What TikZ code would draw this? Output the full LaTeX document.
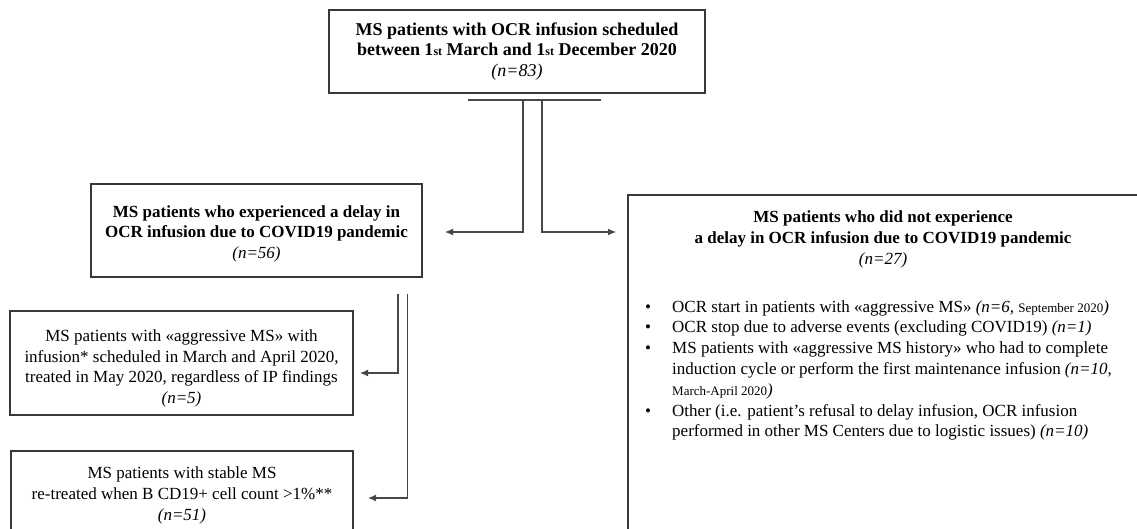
\documentclass[tikz,border=0pt]{standalone}
\usepackage{fontspec}
\setmainfont{Liberation Serif}
\usetikzlibrary{arrows.meta}
\newcommand{\smallst}{{\fontsize{12}{12}\selectfont st}}
\newcommand{\smalltxt}[1]{{\fontsize{13}{13}\selectfont #1}}
\begin{document}
\begin{tikzpicture}[x=1pt,y=-1pt,
  box/.style={draw=black!78, line width=1.1pt, rectangle, inner sep=0pt, align=center, text=black},
  conn/.style={draw=black!72, line width=1.1pt},
  arr/.style={conn, -{Latex[length=8pt,width=7pt]}},
  big/.style={font=\fontsize{18}{20.8}\selectfont},
  med/.style={font=\fontsize{17}{20.6}\selectfont},
  lst/.style={font=\fontsize{17}{20.8}\selectfont}
]
\useasboundingbox (0,0) rectangle (1137,528);
\clip (0,0) rectangle (1137,528);

% boxes
\node[box, big, minimum width=376pt, minimum height=83pt] (top) at (517,51.5)
  {\textbf{MS patients with OCR infusion scheduled}\\
   \textbf{between 1\smallst{} March and 1\smallst{} December 2020}\\
   \textit{(n=83)}};

\node[box, med, minimum width=331pt, minimum height=93pt] (delay) at (256.5,230.5)
  {\\[-2pt]\textbf{MS patients who experienced a delay in}\\
   \textbf{OCR infusion due to COVID19 pandemic}\\
   \textit{(n=56)}};

\node[box, med, minimum width=343pt, minimum height=104pt] (aggr) at (181.5,363)
  {\\[2pt]MS patients with «aggressive MS» with\\
   infusion* scheduled in March and April 2020,\\
   treated in May 2020, regardless of IP findings\\
   \textit{(n=5)}};

\node[box, med, minimum width=342pt, minimum height=84pt] (stable) at (182,493)
  {\\[-4pt]MS patients with stable MS\\
   re-treated when B CD19+ cell count >1\%**\\
   \textit{(n=51)}};

\node[box, minimum width=522pt, minimum height=380pt] (nodelay) at (889,385) {};

\node[med, inner sep=0pt, align=center] (ndtitle) at (883,239.5)
  {\textbf{MS patients who did not experience}\\
   \textbf{a delay in OCR infusion due to COVID19 pandemic}\\
   \textit{(n=27)}};

\node[lst, inner sep=0pt, align=left, anchor=north west] (ndlist) at (645,300)
  {\makebox[27pt][l]{\textbullet}OCR start in patients with «aggressive MS» \textit{(n=6,} \smalltxt{September 2020}\textit{)}\\
   \makebox[27pt][l]{\textbullet}OCR stop due to adverse events (excluding COVID19) \textit{(n=1)}\\
   \makebox[27pt][l]{\textbullet}MS patients with «aggressive MS history» who had to complete\\
   \hspace*{27pt}induction cycle or perform the first maintenance infusion \textit{(n=10,}\\
   \hspace*{27pt}\smalltxt{March-April 2020}\textit{)}\\
   \makebox[27pt][l]{\textbullet}Other (i.e. patient’s refusal to delay infusion, OCR infusion\\
   \hspace*{27pt}performed in other MS Centers due to logistic issues) \textit{(n=10)}};

% connector coordinates
\coordinate (barL) at (468,100);
\coordinate (barR) at (601,100);
\coordinate (vL) at (523,100);
\coordinate (vR) at (542,100);
\coordinate (tipL) at (445,232);
\coordinate (tipR) at (616,232);
\coordinate (v3) at (398,294);
\coordinate (v4) at (407.5,294);
\coordinate (tip3) at (360,373);
\coordinate (tip4) at (368,498);

\draw[conn] (barL) -- (barR);
\draw[arr] (vL) |- (tipL);
\draw[arr] (vR) |- (tipR);
\draw[arr] (v3) |- (tip3);
\draw[arr] (v4) |- (tip4);
\end{tikzpicture}
\end{document}
